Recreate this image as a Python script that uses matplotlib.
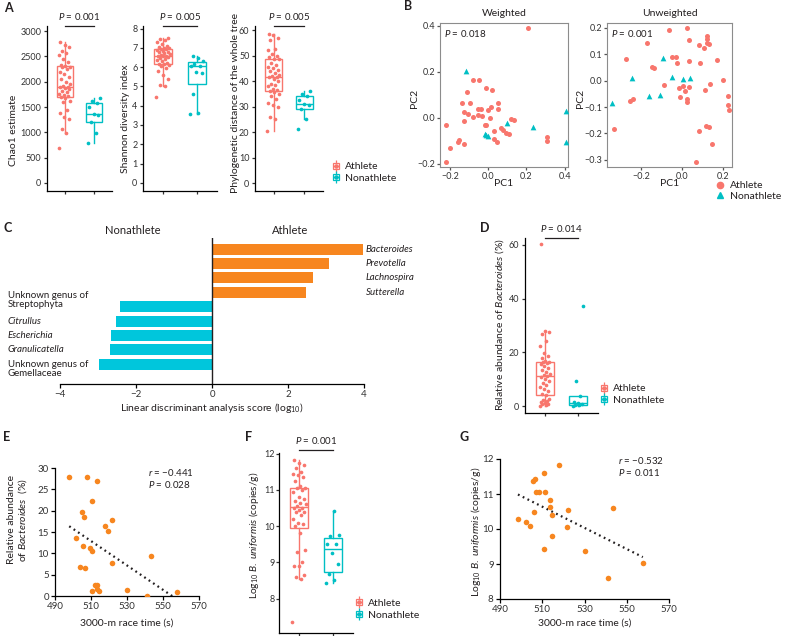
import numpy as np
import matplotlib
matplotlib.use("Agg")
import matplotlib.pyplot as plt
from matplotlib import transforms
from matplotlib.lines import Line2D

plt.rcParams["font.family"] = ["Lato", "DejaVu Sans"]
plt.rcParams["mathtext.fontset"] = "custom"
plt.rcParams["mathtext.rm"] = "Lato"
plt.rcParams["mathtext.it"] = "Lato:italic"
plt.rcParams["mathtext.bf"] = "Lato:bold"
plt.rcParams["axes.linewidth"] = 0.9
plt.rcParams["xtick.major.width"] = 0.9
plt.rcParams["ytick.major.width"] = 0.9
plt.rcParams["xtick.major.size"] = 2.5
plt.rcParams["ytick.major.size"] = 2.5
plt.rcParams["xtick.major.pad"] = 1.5
plt.rcParams["ytick.major.pad"] = 1.5
plt.rcParams["text.color"] = "#231f20"

RED = "#F8766D"
CYAN = "#00BFC4"
ORANGE = "#F7861F"
BAR_CYAN = "#00C6DC"
TICK = "#333333"

# ---- data ----
groups = ["Athlete", "Nonathlete"]

chao1_ath = [700, 980, 1060, 1270, 1300, 1380, 1450, 1600, 1620, 1680,
             1700, 1720, 1740, 1760, 1790, 1820, 1850, 1880, 1900, 1900,
             1910, 1960, 2000, 2050, 2100, 2150, 2200, 2260, 2290, 2300,
             2310, 2330, 2380, 2450, 2520, 2560, 2600, 2680, 2730, 2790]
chao1_non = [780, 980, 1200, 1340, 1360, 1500, 1580, 1620, 1670]

shannon_ath = [4.45, 5.0, 5.05, 5.4, 5.6, 5.8, 5.95, 6.05, 6.1, 6.15,
               6.15, 6.2, 6.3, 6.35, 6.4, 6.45, 6.5, 6.55, 6.6, 6.6,
               6.65, 6.7, 6.75, 6.8, 6.8, 6.85, 6.9, 6.95, 6.95, 7.0,
               7.0, 7.05, 7.1, 7.2, 7.3, 7.4, 7.45, 7.5]
shannon_non = [3.57, 3.62, 4.62, 5.68, 5.76, 6.05, 6.05, 6.17, 6.33, 6.47, 6.59]

pd_ath = [20.5, 25.3, 26.0, 30.0, 30.5, 31.5, 33.0, 34.0, 35.0, 35.8,
          36.0, 36.5, 37.0, 38.0, 38.5, 39.0, 40.0, 41.0, 41.5, 41.7,
          41.8, 42.5, 43.0, 44.0, 44.5, 45.0, 45.5, 46.5, 47.0, 48.5,
          48.6, 49.5, 50.0, 50.5, 52.0, 52.5, 56.0, 57.0, 58.0, 58.5]
pd_non = [21.3, 25.0, 29.0, 30.5, 31.0, 32.5, 34.0, 35.0, 36.3]

# PCoA, weighted
w_ath_x = [0.21, -0.08, -0.05, -0.01, 0.02, -0.11, -0.14, -0.095, 0.05, -0.055,
           -0.04, 0.0, 0.015, -0.13, -0.105, -0.08, -0.055, -0.035, 0.01, 0.05,
           -0.13, -0.22, -0.02, -0.01, 0.03, 0.065, 0.075, 0.09, 0.11, 0.12,
           0.135, 0.03, 0.045, -0.16, -0.155, -0.13, -0.2, -0.225, 0.31, 0.31]
w_ath_y = [0.39, 0.165, 0.165, 0.13, 0.12, 0.11, 0.063, 0.063, 0.066, 0.036,
           0.036, 0.034, 0.045, 0.025, 0.015, 0.005, 0.01, 0.007, 0.0, 0.036,
           -0.015, -0.034, -0.034, -0.034, -0.057, -0.045, -0.055, -0.065, -0.07, -0.007,
           -0.01, -0.092, -0.104, -0.105, -0.098, -0.115, -0.13, -0.193, -0.083, -0.1]
w_non_x = [-0.12, 0.1, 0.235, 0.41, 0.405, -0.02, -0.01, 0.0]
w_non_y = [0.205, -0.025, -0.042, 0.03, -0.105, -0.07, -0.075, -0.08]

# PCoA, unweighted
u_ath_x = [0.026, -0.063, -0.17, 0.033, 0.125, 0.083, 0.125, 0.122, 0.13, 0.11,
           -0.276, -0.047, -0.028, -0.024, 0.033, 0.086, 0.17, -0.145, -0.137, 0.2,
           -0.086, -0.013, 0.003, 0.013, 0.033, -0.008, 0.024, 0.024, 0.135, 0.112,
           0.226, 0.223, 0.231, -0.255, -0.242, -0.332, 0.083, 0.117, 0.13, 0.148, 0.068]
u_ath_y = [0.199, 0.191, 0.143, 0.152, 0.157, 0.133, 0.167, 0.142, 0.14, 0.123,
           0.082, 0.091, 0.089, 0.068, 0.075, 0.065, 0.078, 0.053, 0.048, 0.001,
           -0.016, -0.027, -0.02, -0.038, -0.025, -0.062, -0.068, -0.081, -0.014, -0.035,
           -0.058, -0.091, -0.111, -0.077, -0.071, -0.185, -0.19, -0.172, -0.177, -0.24, -0.308]
u_non_x = [-0.341, -0.246, -0.163, -0.107, -0.091, -0.05, 0.005, 0.039]
u_non_y = [-0.086, 0.011, -0.058, -0.053, 0.087, 0.013, 0.006, 0.011]

# LEfSe
lda_taxa = ["Bacteroides", "Prevotella", "Lachnospira", "Sutterella",
            "Unknown genus of\nStreptophyta", "Citrullus", "Escherichia",
            "Granulicatella", "Unknown genus of\nGemellaceae"]
lda_scores = [3.97, 3.08, 2.65, 2.47, -2.43, -2.53, -2.65, -2.69, -2.97]
lda_italic = [True, True, True, True, False, True, True, True, False]

# Bacteroides relative abundance (%)
bact_ath = [0.1, 0.3, 0.6, 0.9, 1.2, 1.5, 1.8, 2.2, 2.8, 4.1,
            4.3, 5.5, 6.5, 7.2, 8.0, 8.7, 9.5, 10.0, 10.8, 11.2,
            11.4, 12.0, 12.8, 13.5, 14.2, 15.0, 15.6, 16.0, 16.3, 16.4,
            16.6, 17.8, 18.5, 19.8, 22.3, 24.2, 26.8, 27.5, 28.0, 60.5]
bact_non = [0.1, 0.3, 0.5, 0.8, 1.2, 1.5, 3.8, 9.5, 37.4]

# race time vs Bacteroides
e_time = [497.9, 507.9, 513.1, 510.3, 505.2, 506.1, 521.6, 517.5, 519.2, 501.6,
          505.5, 509.2, 510.5, 521.8, 503.7, 506.6, 543.2, 512.0, 513.5, 513.1,
          514.4, 510.3, 529.9, 541.0, 557.8]
e_bact = [27.9, 28.0, 26.9, 22.3, 19.8, 18.4, 17.7, 16.5, 15.3, 13.5,
          11.8, 11.3, 10.6, 7.8, 6.7, 6.6, 9.3, 2.5, 2.5, 1.6,
          1.1, 1.1, 1.3, 0.0, 0.9]

# log10 B. uniformis
unif_ath = [7.34, 8.55, 8.6, 8.65, 8.9, 8.9, 9.0, 9.3, 9.35, 9.8,
            10.0, 10.05, 10.1, 10.2, 10.3, 10.4, 10.4, 10.45, 10.5, 10.5,
            10.55, 10.6, 10.65, 10.7, 10.75, 10.8, 10.95, 11.0, 11.05, 11.05,
            11.1, 11.25, 11.35, 11.4, 11.45, 11.5, 11.6, 11.7, 11.75, 11.83]
unif_non = [8.42, 8.5, 8.68, 8.95, 9.25, 9.5, 9.5, 9.72, 9.75, 10.42]

g_time = [517.7, 510.9, 506.5, 505.4, 507.2, 508.6, 511.1, 513.5, 513.6, 514.7,
          505.9, 522.0, 498.5, 502.1, 504.2, 521.8, 543.4, 514.4, 510.6, 530.0,
          557.6, 541.0]
g_unif = [11.82, 11.59, 11.43, 11.37, 11.06, 11.05, 11.06, 10.84, 10.64, 10.41,
          10.49, 10.54, 10.30, 10.21, 10.08, 10.06, 10.61, 9.79, 9.42, 9.37,
          9.04, 8.60]

# ---- figure ----
W, H = 785, 636
fig = plt.figure(figsize=(7.85, 6.36), dpi=100)


def add_ax(l, t, r, b):
    return fig.add_axes([l / W, 1 - b / H, (r - l) / W, (b - t) / H])


def fig_text(x, y, s, **kw):
    kw.setdefault("ha", "center")
    kw.setdefault("va", "center")
    fig.text(x / W, 1 - y / H, s, **kw)


def jitter(n, spread):
    # fixed, evenly scattered offsets (golden ratio sequence)
    return ((np.arange(n) * 0.618034) % 1 - 0.5) * 2 * spread


def box_panel(ax, ath, non, spread=0.2, size=7):
    bp = ax.boxplot([ath, non], positions=[1, 2], widths=0.55, showfliers=False,
                    showcaps=False, patch_artist=True)
    for i, c in enumerate([RED, CYAN]):
        bp["boxes"][i].set(facecolor="white", edgecolor=c, linewidth=1)
        bp["medians"][i].set(color=c, linewidth=1)
        for w in bp["whiskers"][2 * i:2 * i + 2]:
            w.set(color=c, linewidth=1)
        vals = np.asarray([ath, non][i])
        ax.scatter(i + 1 + jitter(len(vals), spread), vals, s=size, color=c,
                   linewidths=0, zorder=3)
    ax.set_xlim(0.4, 2.6)
    ax.set_xticks([1, 2])
    ax.set_xticklabels([])
    ax.spines["top"].set_visible(False)
    ax.spines["right"].set_visible(False)
    ax.tick_params(labelsize=6.5, labelcolor=TICK, colors=TICK)


def bracket(ax, label, y_line, y_text):
    tr = transforms.blended_transform_factory(ax.transData, ax.transAxes)
    ax.plot([1, 2], [y_line, y_line], color="#231f20", lw=0.9, transform=tr,
            clip_on=False)
    ax.text(1.5, y_text, label, transform=tr, ha="center", va="center",
            fontsize=7)


def box_legend(x, y):
    handles = []
    for c in [RED, CYAN]:
        handles.append((
            Line2D([], [], color=c, marker="|", markersize=9, ls="None", mew=0.9),
            Line2D([], [], color=c, marker="s", markersize=5, mfc="white", mec=c,
                   ls="None", mew=0.9),
            Line2D([], [], color=c, marker="_", markersize=5, ls="None", mew=0.9),
            Line2D([], [], color=c, marker="o", markersize=2.3, ls="None"),
        ))
    fig.legend(handles, groups, loc="center left", bbox_to_anchor=(x / W, 1 - y / H),
               frameon=False, fontsize=7.5, handlelength=0.9, handletextpad=0.4,
               labelspacing=0.25, borderpad=0, borderaxespad=0)


def panel_letter(x, y, s):
    fig_text(x, y, s, ha="left", fontsize=9, fontweight="bold")


# A
ax = add_ax(47, 26, 112, 191)
box_panel(ax, chao1_ath, chao1_non)
ax.set_ylim(-158, 3100)
ax.set_yticks(range(0, 3001, 500))
bracket(ax, "$P$ = 0.001", 1.0, 1.055)
fig_text(14, 130, "Chao1 estimate", rotation=90, fontsize=7.5)

ax = add_ax(143, 26, 217, 191)
box_panel(ax, shannon_ath, shannon_non)
ax.set_ylim(-0.42, 8.13)
ax.set_yticks(range(0, 9))
bracket(ax, "$P$ = 0.005", 1.0, 1.055)
fig_text(125, 119, "Shannon diversity index", rotation=90, fontsize=7.5)

ax = add_ax(255, 26, 323, 191)
box_panel(ax, pd_ath, pd_non)
ax.set_ylim(-3.1, 61.6)
ax.set_yticks(range(0, 61, 10))
bracket(ax, "$P$ = 0.005", 1.0, 1.055)
fig_text(235, 103, "Phylogenetic distance of the whole tree", rotation=90, fontsize=7.5)
box_legend(331, 172.5)
panel_letter(4, 8, "A")


# B
def pcoa(box, ax_x, ax_y, nx, ny, xlim, ylim, xticks, yticks, title, ptext):
    ax = add_ax(*box)
    ax.scatter(ax_x, ax_y, s=13, color=RED, linewidths=0, zorder=3)
    ax.scatter(nx, ny, s=17, color=CYAN, marker="^", linewidths=0, zorder=3)
    ax.set_xlim(*xlim)
    ax.set_ylim(*ylim)
    ax.set_xticks(xticks)
    ax.set_yticks(yticks)
    for sp in ax.spines.values():
        sp.set_color("#8c8c8c")
        sp.set_linewidth(0.8)
    ax.tick_params(labelsize=6.5, labelcolor=TICK, colors="#555555", length=2)
    ax.text(0.035, 0.93, ptext, transform=ax.transAxes, ha="left", va="center",
            fontsize=7)
    l, t, r, b = box
    fig_text((l + r) / 2, 13, title, fontsize=7.5)
    fig_text((l + r) / 2, 183, "PC1", fontsize=7.5)
    return ax


pcoa((440, 23, 568, 167), w_ath_x, w_ath_y, w_non_x, w_non_y,
     (-0.254, 0.418), (-0.215, 0.413), [-0.2, 0.0, 0.2, 0.4], [-0.2, 0.0, 0.2, 0.4],
     "Weighted", "$P$ = 0.018")
fig_text(415, 98, "PC2", rotation=90, fontsize=7.5)
pcoa((607, 23, 732, 167), u_ath_x, u_ath_y, u_non_x, u_non_y,
     (-0.367, 0.245), (-0.327, 0.218), [-0.2, 0.0, 0.2],
     [-0.3, -0.2, -0.1, 0.0, 0.1, 0.2], "Unweighted", "$P$ = 0.001")
fig_text(580, 98, "PC2", rotation=90, fontsize=7.5)
b_handles = [Line2D([], [], color=RED, marker="o", ls="None", markersize=4.5),
             Line2D([], [], color=CYAN, marker="^", ls="None", markersize=4.5)]
fig.legend(b_handles, groups, loc="upper left", bbox_to_anchor=(716 / W, 1 - 181 / H),
           frameon=False, fontsize=7.5, handlelength=0.8, handletextpad=0.5,
           labelspacing=0.1, borderpad=0, borderaxespad=0)
panel_letter(404, 6, "B")

# C
ax = add_ax(60, 238, 364, 384)
ypos = np.arange(len(lda_scores))
bar_colors = [ORANGE if v > 0 else BAR_CYAN for v in lda_scores]
ax.barh(ypos, lda_scores, height=0.76, color=bar_colors)
ax.axvline(0, color="#231f20", lw=1)
ax.set_xlim(-4, 4)
ax.set_ylim(9.38, -0.78)
ax.set_xticks([-4, -2, 0, 2, 4])
ax.set_yticks([])
for sp in ["top", "right", "left"]:
    ax.spines[sp].set_visible(False)
ax.tick_params(axis="x", labelsize=7, labelcolor=TICK, length=3, direction="out")
label_shift = {4: -0.5, 8: 0.35}
for i, (name, v, it) in enumerate(zip(lda_taxa, lda_scores, lda_italic)):
    style = "italic" if it else "normal"
    if v > 0:
        ax.text(4.05, i, name, ha="left", va="center", fontsize=7, fontstyle=style,
                clip_on=False)
    else:
        ax.text(-5.37, i + label_shift.get(i, 0), name, ha="left", va="center",
                fontsize=7, fontstyle=style, linespacing=1.0, clip_on=False)
fig_text(133, 230, "Nonathlete", fontsize=8)
fig_text(290, 230, "Athlete", fontsize=8)
fig_text(212, 408, "Linear discriminant analysis score (log$_{10}$)", fontsize=7.5)
panel_letter(3, 228, "C")

# D
ax = add_ax(525, 238, 598, 413)
box_panel(ax, bact_ath, bact_non, spread=0.15)
ax.set_ylim(-2.6, 62.6)
ax.set_yticks([0, 20, 40, 60])
bracket(ax, "$P$ = 0.014", 1.0, 1.057)
fig_text(500, 325, "Relative abundance of $Bacteroides$ (%)", rotation=90, fontsize=7.5)
box_legend(599, 394.5)
panel_letter(480, 228, "D")


def scatter_panel(box, x, y, xlim, ylim, yticks, rtext, ptext, text_y):
    ax = add_ax(*box)
    ax.scatter(x, y, s=16, color=ORANGE, linewidths=0, zorder=3)
    k, c = np.polyfit(x, y, 1)
    xs = np.array([min(x), max(x)])
    ax.plot(xs, k * xs + c, color="#231f20", lw=1.6, ls=(0, (0.8, 1.6)))
    ax.set_xlim(*xlim)
    ax.set_ylim(*ylim)
    ax.set_xticks(range(490, 571, 20))
    ax.set_yticks(yticks)
    ax.spines["top"].set_visible(False)
    ax.spines["right"].set_visible(False)
    ax.tick_params(labelsize=7, labelcolor=TICK, length=3)
    l, t, r, b = box
    fig_text(box[2] - 5, text_y, rtext, ha="right", fontsize=7)
    fig_text(box[2] - 5 - 46, text_y + 12, ptext, ha="left", fontsize=7)
    fig_text((l + r) / 2, 623, "3000-m race time (s)", fontsize=7.5)
    return ax


# E
scatter_panel((55, 468, 199, 596), e_time, e_bact, (490, 570), (0, 30),
              range(0, 31, 5), "$r$ = \u22120.441", "$P$ = 0.028", 473)
fig_text(18, 520, "Relative abundance\nof $Bacteroides$  (%)", rotation=90,
         fontsize=7.5, linespacing=1.1)
panel_letter(3, 437, "E")

# F
ax = add_ax(279, 453, 353, 633)
box_panel(ax, unif_ath, unif_non)
ax.tick_params(axis="y", length=2, pad=1)
ax.set_ylim(7.05, 12.02)
ax.set_yticks([8, 9, 10, 11, 12])
bracket(ax, "$P$ = 0.001", 1.017, 1.067)
fig_text(254, 535, "Log$_{10}$ $B.\\ uniformis$ (copies/g)", rotation=90, fontsize=7.3)
box_legend(354, 609)
panel_letter(245, 437, "F")

# G
scatter_panel((500, 459, 669, 599), g_time, g_unif, (490, 570), (8, 12),
              [8, 9, 10, 11, 12], "$r$ = \u22120.532", "$P$ = 0.011", 460)
fig_text(476, 532, "Log$_{10}$ $B.\\ uniformis$ (copies/g)", rotation=90, fontsize=7.5)
panel_letter(460, 437, "G")

fig.savefig("out.png", dpi=100)
